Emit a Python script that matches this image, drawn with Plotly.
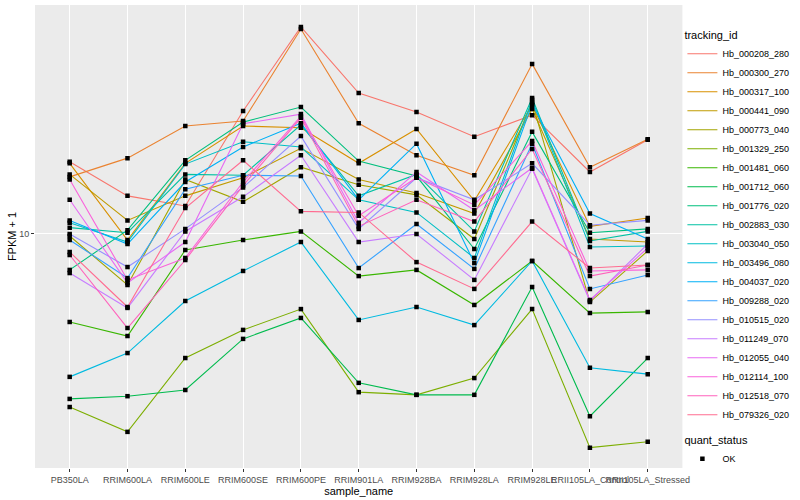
import plotly.graph_objects as go

samples = ["PB350LA", "RRIM600LA", "RRIM600LE", "RRIM600SE", "RRIM600PE", "RRIM901LA",
           "RRIM928BA", "RRIM928LA", "RRIM928LE", "RRII105LA_Control", "RRII105LA_Stressed"]

tracking_ids = ["Hb_000208_280", "Hb_000300_270", "Hb_000317_100", "Hb_000441_090",
                "Hb_000773_040", "Hb_001329_250", "Hb_001481_060", "Hb_001712_060",
                "Hb_001776_020", "Hb_002883_030", "Hb_003040_050", "Hb_003496_080",
                "Hb_004037_020", "Hb_009288_020", "Hb_010515_020", "Hb_011249_070",
                "Hb_012055_040", "Hb_012114_100", "Hb_012518_070", "Hb_079326_020"]

colors = ["#F8766D", "#EA8331", "#D89000", "#C09B00", "#A3A500", "#7CAE00", "#39B600",
          "#00BB4E", "#00BF7D", "#00C1A3", "#00BFC4", "#00BAE0", "#00B0F6", "#35A2FF",
          "#9590FF", "#C77CFF", "#E76BF3", "#FA62DB", "#FF62BC", "#FF6C91"]

# FPKM + 1 values per gene, in sample order
hb_000208_280 = [17.4, 13.4, 12.4, 25.7, 49.0, 29.5, 25.5, 21.1, 24.9, 16.1, 20.6]
hb_000300_270 = [15.5, 17.9, 22.9, 23.8, 48.2, 23.4, 18.3, 15.7, 36.9, 16.7, 20.7]
hb_000317_100 = [17.2, 9.55, 17.2, 22.9, 22.6, 17.2, 22.4, 12.9, 26.9, 10.6, 11.3]
hb_000441_090 = [15.8, 11.1, 13.4, 15.4, 19.3, 15.2, 13.7, 11.7, 26.1, 9.62, 9.40]
hb_000773_040 = [9.85, 6.76, 15.2, 12.8, 16.7, 14.6, 13.5, 9.62, 27.5, 5.93, 8.78]
hb_001329_250 = [2.65, 2.19, 3.86, 4.79, 5.62, 2.97, 2.91, 3.31, 5.62, 1.94, 2.03]
hb_001481_060 = [5.09, 4.57, 8.84, 9.55, 10.2, 7.24, 7.59, 5.80, 8.13, 5.45, 5.50]
hb_001712_060 = [2.82, 2.88, 3.02, 4.47, 5.25, 3.19, 2.91, 2.91, 6.66, 2.47, 3.86]
hb_001776_020 = [7.59, 10.3, 17.6, 23.6, 26.5, 17.5, 15.6, 8.91, 21.9, 10.1, 10.4]
hb_002883_030 = [10.5, 10.1, 15.8, 15.7, 23.1, 13.4, 15.8, 10.2, 28.4, 9.48, 10.2]
hb_003040_050 = [10.9, 9.40, 17.1, 20.3, 19.5, 13.0, 11.8, 8.32, 28.0, 9.05, 9.12]
hb_003496_080 = [3.34, 4.01, 5.98, 7.53, 9.40, 5.17, 5.71, 4.97, 8.13, 3.58, 3.41]
hb_004037_020 = [11.1, 9.26, 14.9, 19.5, 23.4, 13.0, 20.0, 8.00, 27.1, 11.7, 9.62]
hb_009288_020 = [9.55, 7.13, 14.1, 15.7, 15.6, 7.70, 10.8, 7.65, 20.0, 6.56, 7.30]
hb_010515_020 = [10.0, 7.76, 10.4, 14.3, 21.2, 10.4, 15.4, 13.0, 17.2, 10.7, 11.1]
hb_011249_070 = [7.41, 5.67, 10.2, 13.3, 18.3, 9.40, 10.0, 7.03, 16.5, 5.98, 9.26]
hb_012055_040 = [13.0, 6.87, 9.40, 23.3, 25.1, 10.9, 16.1, 12.0, 16.6, 6.03, 8.98]
hb_012114_100 = [15.2, 7.03, 8.32, 14.9, 24.7, 11.5, 15.4, 12.5, 20.4, 7.53, 7.59]
hb_012518_070 = [8.51, 4.86, 8.19, 14.5, 24.4, 10.6, 13.0, 11.0, 19.2, 7.24, 7.88]
hb_079326_020 = [8.71, 5.71, 12.2, 17.6, 11.9, 11.8, 8.06, 6.56, 11.0, 7.70, 7.88]

series = [hb_000208_280, hb_000300_270, hb_000317_100, hb_000441_090, hb_000773_040,
          hb_001329_250, hb_001481_060, hb_001712_060, hb_001776_020, hb_002883_030,
          hb_003040_050, hb_003496_080, hb_004037_020, hb_009288_020, hb_010515_020,
          hb_011249_070, hb_012055_040, hb_012114_100, hb_012518_070, hb_079326_020]

y_ticks = [10]
y_tick_labels = ["10"]

FONT = "Liberation Sans, Arial, sans-serif"

fig = go.Figure()
for tid, col, vals in zip(tracking_ids, colors, series):
    fig.add_trace(go.Scatter(x=samples, y=vals, mode="lines", name=tid,
                             line=dict(color=col, width=1.1), legend="legend",
                             hoverinfo="skip"))

all_x = [s for vals in series for s in samples]
all_y = [v for vals in series for v in vals]
fig.add_trace(go.Scatter(x=all_x, y=all_y, mode="markers", name="OK",
                         marker=dict(symbol="square", size=4.5, color="black",
                                     line=dict(width=0)),
                         legend="legend2"))

fig.update_layout(
    width=800, height=500,
    margin=dict(l=35, r=116, t=5, b=32),
    paper_bgcolor="white", plot_bgcolor="#EBEBEB",
    font=dict(family=FONT, color="black"),
    legend=dict(title=dict(text="tracking_id", font=dict(size=11, color="black")),
                font=dict(size=9, color="black"),
                xref="container", yref="container", x=0.853, y=0.95,
                xanchor="left", yanchor="top", bgcolor="rgba(0,0,0,0)",
                itemwidth=30, tracegroupgap=0, maxheight=1.0),
    legend2=dict(title=dict(text="quant_status", font=dict(size=11, color="black")),
                 font=dict(size=9, color="black"),
                 xref="container", yref="container", x=0.853, y=0.14,
                 xanchor="left", yanchor="top", bgcolor="rgba(0,0,0,0)",
                 itemwidth=30),
)

fig.update_xaxes(type="category", categoryorder="array", categoryarray=samples,
                 range=[-0.6, len(samples) - 0.4], tickangle=0,
                 showgrid=True, gridcolor="white", gridwidth=1.1,
                 ticks="outside", ticklen=3, tickcolor="#333333", tickwidth=1,
                 tickfont=dict(size=9, color="#4D4D4D"),
                 title=dict(text="sample_name", font=dict(size=11), standoff=0),
                 showline=False, zeroline=False, automargin=False)

fig.update_yaxes(type="log", range=[0.22, 1.7633],
                 tickvals=y_ticks, ticktext=y_tick_labels,
                 showgrid=True, gridcolor="white", gridwidth=1.1,
                 ticks="outside", ticklen=3, tickcolor="#333333", tickwidth=1,
                 tickfont=dict(size=9, color="#4D4D4D"),
                 title=dict(text="FPKM + 1", font=dict(size=11), standoff=0),
                 showline=False, zeroline=False, automargin=False)

fig.write_html("out.html", config={"displayModeBar": False},
               post_script="document.body.style.margin='0';document.body.style.padding='0';")
